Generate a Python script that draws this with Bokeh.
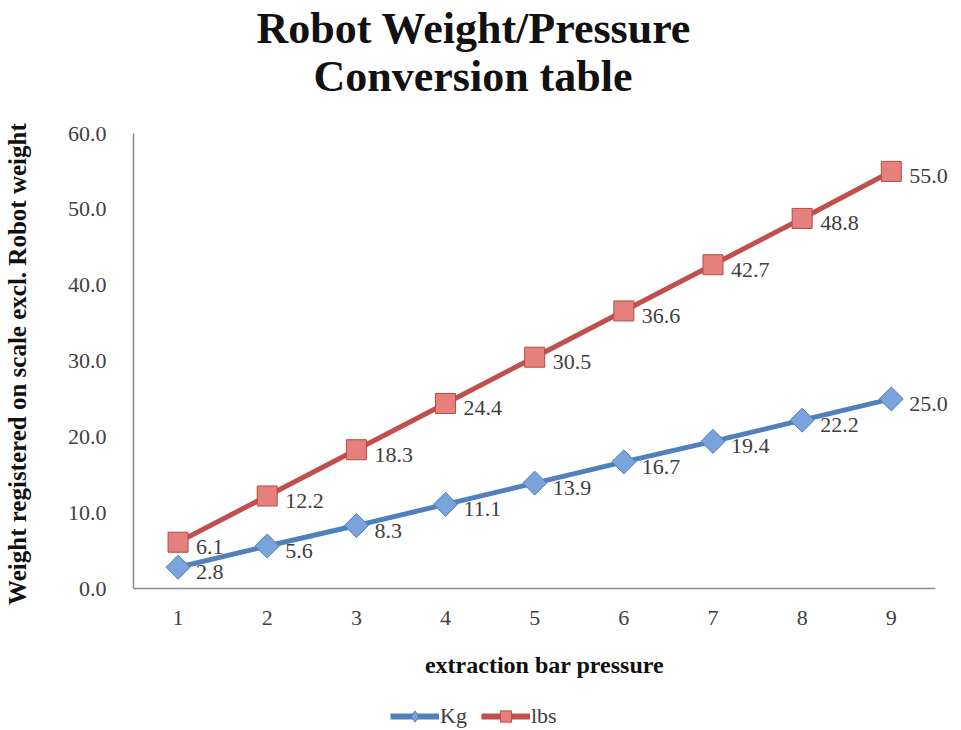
import math
from bokeh.plotting import figure
from bokeh.layouts import column
from bokeh.models import (ColumnDataSource, FixedTicker, PrintfTickFormatter, Range1d,
                          Legend, LegendItem, Label, Title)
from bokeh.embed import file_html
from bokeh.resources import INLINE

# ---- data ----
pressure = [1, 2, 3, 4, 5, 6, 7, 8, 9]
kg = [2.8, 5.6, 8.3, 11.1, 13.9, 16.7, 19.4, 22.2, 25.0]
lbs = [6.1, 12.2, 18.3, 24.4, 30.5, 36.6, 42.7, 48.8, 55.0]
y_ticks = [0, 10, 20, 30, 40, 50, 60]
series_names = ["Kg", "lbs"]
title_lines = ["Robot Weight/Pressure", "Conversion table"]

SERIF = "Liberation Serif"
TXT = "#404040"
BLUE_LINE, BLUE_FILL, BLUE_EDGE = "#4F81BD", "#7BA3DB", "#4A7EBB"
RED_LINE, RED_FILL, RED_EDGE = "#C0504D", "#E5807C", "#B84A47"

src_kg = ColumnDataSource(dict(x=pressure, y=kg))
src_lbs = ColumnDataSource(dict(x=pressure, y=lbs))

# main chart; x range extended a little on the right so the last data labels are
# not clipped, the axis line itself is bounded to the category band (0.5 .. 9.5)
p = figure(width=961, height=700, output_backend="svg", toolbar_location=None,
           x_range=Range1d(0.5, 9.72), y_range=Range1d(0, 60),
           min_border_left=131, min_border_right=6, min_border_top=133,
           min_border_bottom=112, background_fill_color="white",
           border_fill_color="white", outline_line_color=None,
           title_location=None)

t2 = Title(text=title_lines[1], align="left", offset=180, standoff=66,
           text_font=SERIF, text_font_size="44px", text_font_style="bold",
           text_color="#111111")
t1 = Title(text=title_lines[0], align="left", offset=123, standoff=-73,
           text_font=SERIF, text_font_size="44px", text_font_style="bold",
           text_color="#111111")
p.add_layout(t2, "above")
p.add_layout(t1, "above")

p.xgrid.visible = False
p.ygrid.visible = False

for ax in (p.xaxis, p.yaxis):
    ax.axis_line_color = "#8a8a8a"
    ax.axis_line_width = 1.5
    ax.major_tick_line_color = None
    ax.minor_tick_line_color = None
    ax.major_label_text_font = SERIF
    ax.major_label_text_font_size = "22px"
    ax.major_label_text_color = TXT
    ax.axis_label_text_font = SERIF
    ax.axis_label_text_font_style = "bold"
    ax.axis_label_text_color = "#111111"

p.xaxis.ticker = FixedTicker(ticks=pressure)
p.xaxis.bounds = (0.5, 9.5)
p.xaxis.major_label_standoff = 16
p.xaxis.axis_label = "extraction bar pressure"
p.xaxis.axis_label_text_font_size = "24px"
p.xaxis.axis_label_standoff = 24

p.yaxis.ticker = FixedTicker(ticks=y_ticks)
p.yaxis.formatter = PrintfTickFormatter(format="%.1f")
p.yaxis.major_label_standoff = 21
p.yaxis.axis_label = "Weight registered on scale excl. Robot  weight"
p.yaxis.axis_label_text_font_size = "25px"
p.yaxis.axis_label_standoff = 34

# series
p.line("x", "y", source=src_kg, line_color=BLUE_LINE, line_width=5)
p.scatter("x", "y", source=src_kg, marker="square", angle=math.pi / 4, size=17,
          fill_color=BLUE_FILL, line_color=BLUE_EDGE, line_width=1)
p.line("x", "y", source=src_lbs, line_color=RED_LINE, line_width=5)
p.scatter("x", "y", source=src_lbs, marker="square", size=20,
          fill_color=RED_FILL, line_color=RED_EDGE, line_width=1)

# data labels
for xs, ys in ((pressure, kg), (pressure, lbs)):
    for xv, yv in zip(xs, ys):
        p.add_layout(Label(x=xv, y=yv, text=f"{yv:.1f}", x_offset=18, y_offset=-5,
                           text_font=SERIF, text_font_size="22px", text_color=TXT,
                           text_baseline="middle", text_align="left"))

# legend strip underneath the chart (a legend inside the main frame would be clipped).
# Its frame is aligned with the main frame; the series drawn here fall outside its
# ranges, so only the legend entries show.
leg = figure(width=961, height=30, output_backend="svg", toolbar_location=None,
             x_range=Range1d(-10, -9), y_range=Range1d(-10, -9), min_border=0,
             x_axis_location=None, y_axis_location=None,
             outline_line_color=None, background_fill_color="white",
             border_fill_color="white")
leg.xgrid.visible = False
leg.ygrid.visible = False
lk = leg.line("x", "y", source=src_kg, line_color=BLUE_LINE, line_width=6)
mk = leg.scatter("x", "y", source=src_kg, marker="diamond", size=16,
                 fill_color=BLUE_FILL, line_color=BLUE_EDGE)
ll = leg.line("x", "y", source=src_lbs, line_color=RED_LINE, line_width=6)
ml = leg.scatter("x", "y", source=src_lbs, marker="square", size=14,
                 fill_color=RED_FILL, line_color=RED_EDGE)

legend = Legend(items=[LegendItem(label=series_names[0], renderers=[lk, mk]),
                       LegendItem(label=series_names[1], renderers=[ll, ml])],
                orientation="horizontal", location=(257, 0),
                glyph_width=49, glyph_height=28, label_standoff=1, spacing=14,
                padding=0, margin=0, border_line_color=None,
                background_fill_alpha=0,
                label_text_font=SERIF, label_text_font_size="22px",
                label_text_color=TXT)
leg.add_layout(legend)

layout = column(p, leg, spacing=0)
open("out.html", "w").write(file_html(layout, INLINE))
